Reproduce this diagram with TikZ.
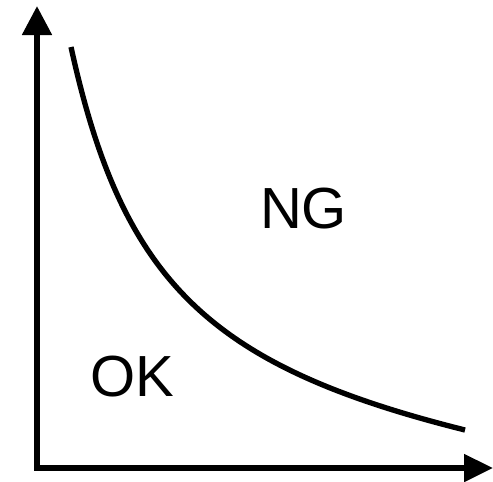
\documentclass[tikz,border=0pt]{standalone}
\usepackage{fontspec}
\setmainfont{Liberation Sans}
\usepackage{tikz}
\usetikzlibrary{arrows.meta,positioning,calc}

\tikzset{
    axisline/.style={line width=4.5pt, line join=miter, -{Triangle[length=21.75pt, width=21.5pt]}},
    boundary/.style={line width=4pt},
    regionlabel/.style={inner sep=0pt, font=\fontsize{43.5}{52}\selectfont}
}

\begin{document}
\begin{tikzpicture}[x=0.75pt, y=-0.75pt]
    \useasboundingbox (0,0) rectangle (493,482);
    % Axes
    \coordinate (origin) at (37,468);
    \coordinate (ytop) at (37,6);
    \coordinate (xend) at (493,468);
    \draw[axisline, {Triangle[length=21.75pt, width=21.5pt]}-{Triangle[length=21.75pt, width=20pt]}]
        (ytop) -- (origin) -- (xend);
    % Boundary curve
    \coordinate (cstart) at (71,47);
    \coordinate (cend) at (465,430);
    \draw[boundary] (cstart) .. controls (122.5,282) and (209,366) .. (cend);
    % Regions
    \node[regionlabel] (ng) at (303.5,208.5) {NG};
    \node[regionlabel] (ok) at (132.5,376.5) {OK};
\end{tikzpicture}
\end{document}
